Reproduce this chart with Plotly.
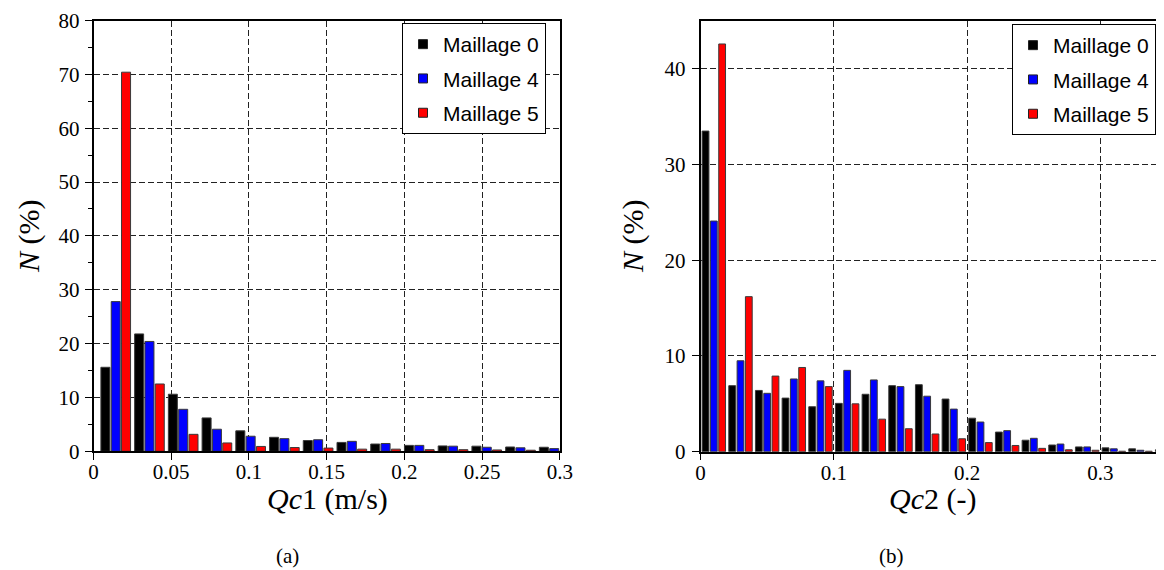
import plotly.graph_objects as go

# ---------------- data ----------------
qc1_centers = [0.0143, 0.0360, 0.0577, 0.0794, 0.1011, 0.1228, 0.1445,
               0.1662, 0.1879, 0.2096, 0.2313, 0.2530, 0.2747, 0.2964]
qc1_m0 = [15.6, 21.8, 10.6, 6.2, 3.8, 2.6, 2.0, 1.65, 1.35, 1.1, 1.0, 0.95, 0.8, 0.75]
qc1_m4 = [27.8, 20.4, 7.8, 4.1, 2.8, 2.35, 2.15, 1.85, 1.45, 1.1, 0.95, 0.75, 0.65, 0.5]
qc1_m5 = [70.4, 12.5, 3.15, 1.55, 0.9, 0.7, 0.6, 0.4, 0.4, 0.3, 0.3, 0.25, 0.2, 0.15]

qc2_centers = [0.01, 0.03, 0.05, 0.07, 0.09, 0.11, 0.13, 0.15, 0.17,
               0.19, 0.21, 0.23, 0.25, 0.27, 0.29, 0.31, 0.33, 0.35]
qc2_m0 = [33.5, 6.9, 6.4, 5.6, 4.7, 5.05, 6.0, 6.9, 7.0, 5.5, 3.5, 2.05, 1.2, 0.7, 0.5, 0.4, 0.3, 0.2]
qc2_m4 = [24.1, 9.5, 6.1, 7.6, 7.4, 8.5, 7.5, 6.8, 5.8, 4.45, 3.1, 2.2, 1.4, 0.8, 0.5, 0.3, 0.15, 0.1]
qc2_m5 = [42.6, 16.2, 7.9, 8.8, 6.8, 5.0, 3.4, 2.4, 1.85, 1.35, 0.95, 0.65, 0.35, 0.2, 0.15, 0.05, 0.05, 0.03]

series_names = ["Maillage 0", "Maillage 4", "Maillage 5"]
series_colors = ["#000000", "#0000ff", "#ff0000"]

x1_ticks = [0, 0.05, 0.1, 0.15, 0.2, 0.25, 0.3]
x1_ticklabels = ["0", "0.05", "0.1", "0.15", "0.2", "0.25", "0.3"]
y1_ticks = [0, 10, 20, 30, 40, 50, 60, 70, 80]
x2_ticks = [0, 0.1, 0.2, 0.3]
x2_ticklabels = ["0", "0.1", "0.2", "0.3"]
y2_ticks = [0, 10, 20, 30, 40]

# ---------------- layout constants ----------------
# the page body adds an 8px margin, so the figure is drawn 8px smaller
# and all reference pixel positions are shifted by 8px
OFF = 8
W, H = 1164 - OFF, 570 - OFF
SERIF = "Liberation Serif"
SANS = "Liberation Sans"

def px_x(p):
    return (p - OFF) / W

def px_y(p):
    return 1 - (p - OFF) / H

fig = go.Figure()

left_sets = [qc1_m0, qc1_m4, qc1_m5]
right_sets = [qc2_m0, qc2_m4, qc2_m5]

p1, w1 = 0.00664, 0.0058
p2, w2 = 0.00623, 0.0051

for k in range(3):
    fig.add_trace(go.Bar(
        x=qc1_centers, y=left_sets[k], width=w1,
        offset=(k - 1.5) * p1 + (p1 - w1) / 2,
        marker=dict(color=series_colors[k], line=dict(color="#3a3a3a", width=1)),
        name=series_names[k], showlegend=False, xaxis="x", yaxis="y"))
    fig.add_trace(go.Bar(
        x=qc2_centers, y=right_sets[k], width=w2,
        offset=(k - 1.5) * p2 + (p2 - w2) / 2,
        marker=dict(color=series_colors[k], line=dict(color="#3a3a3a", width=1)),
        name=series_names[k], showlegend=False, xaxis="x2", yaxis="y2"))

# legend entries
for k in range(3):
    for lg, xa, ya in (("legend", "x", "y"), ("legend2", "x2", "y2")):
        fig.add_trace(go.Scatter(
            x=[None], y=[None], mode="markers", name=series_names[k],
            marker=dict(symbol="square", size=9, color=series_colors[k],
                        line=dict(color="#222", width=1)),
            legend=lg, legendgroup=f"{lg}{k}", xaxis=xa, yaxis=ya))

grid = dict(showgrid=True, gridcolor="#222", gridwidth=1.2, griddash="6px,3px")
axis_common = dict(showline=True, linecolor="black", linewidth=1.5, ticks="outside",
                   ticklen=7, tickwidth=1.2, tickcolor="black", zeroline=False,
                   automargin=False,
                   tickfont=dict(family=SERIF, size=21, color="black"), **grid)

legend_common = dict(font=dict(family=SANS, size=21, color="black"),
                     bgcolor="white", bordercolor="black", borderwidth=1,
                     traceorder="grouped", tracegroupgap=4, itemsizing="trace",
                     xanchor="left", yanchor="top")

fig.update_layout(
    width=W, height=H, margin=dict(l=0, r=0, t=0, b=0, autoexpand=False),
    plot_bgcolor="white", paper_bgcolor="white", barmode="overlay",
    xaxis=dict(domain=[px_x(93.5), px_x(559.8)], range=[0, 0.3], tickvals=x1_ticks,
               ticktext=x1_ticklabels, mirror=True, anchor="y", ticklabelstandoff=-6,
               **axis_common),
    yaxis=dict(domain=[px_y(451.3), px_y(20.5)], range=[0, 80], tickvals=y1_ticks,
               mirror=True, anchor="x", ticklabelstandoff=1,
               minor=dict(dtick=5, ticklen=4, ticks="outside", tickcolor="black", showgrid=False),
               **axis_common),
    xaxis2=dict(domain=[px_x(700.5), 1.0], range=[0, (1164 - 700.5) / 1333.3], tickvals=x2_ticks,
                ticktext=x2_ticklabels, mirror=True, anchor="y2", ticklabelstandoff=-6,
                **axis_common),
    yaxis2=dict(domain=[px_y(451.7), px_y(21.0)], range=[0, 45], tickvals=y2_ticks,
                mirror=False, anchor="x2", ticklabelstandoff=2, **axis_common),
    legend=dict(x=px_x(402), y=px_y(23), **legend_common),
    legend2=dict(x=px_x(1012), y=px_y(24), **legend_common),
)

ann_font = dict(family=SERIF, size=30, color="black")
anns = [
    dict(x=px_x(29), y=px_y(236), text="<i>N</i> (%)", textangle=-90, font=ann_font),
    dict(x=px_x(633), y=px_y(236), text="<i>N</i> (%)", textangle=-90, font=ann_font),
    dict(x=px_x(327), y=px_y(499), text="<i>Qc</i>1 (m/s)", font=ann_font),
    dict(x=px_x(932), y=px_y(499), text="<i>Qc</i>2 (-)", font=ann_font),
    dict(x=px_x(287), y=px_y(556), text="(a)", font=dict(family=SERIF, size=21, color="black")),
    dict(x=px_x(891), y=px_y(556), text="(b)", font=dict(family=SERIF, size=21, color="black")),
]
for a in anns:
    fig.add_annotation(xref="paper", yref="paper", showarrow=False,
                       xanchor="center", yanchor="middle", **a)

fig.write_html("out.html")
